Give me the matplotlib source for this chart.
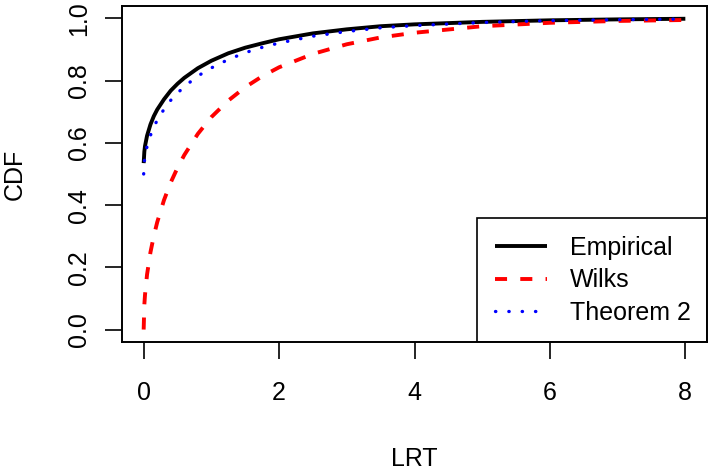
import matplotlib
matplotlib.use("Agg")
import matplotlib.pyplot as plt
from matplotlib.patches import Rectangle

plt.rcParams['font.family'] = ['Liberation Sans', 'DejaVu Sans']

# values
lrt = [0, 0.01, 0.02, 0.05, 0.1, 0.15, 0.2, 0.3, 0.4, 0.5, 0.6, 0.8, 1.0,
       1.25, 1.5, 1.75, 2.0, 2.5, 3.0, 3.5, 4.0, 5.0, 6.0, 7.0, 8.0]
empirical = [0.535, 0.572, 0.590, 0.623, 0.659, 0.686, 0.707, 0.740, 0.768,
             0.790, 0.809, 0.840, 0.864, 0.888, 0.906, 0.920, 0.933, 0.952,
             0.965, 0.975, 0.981, 0.989, 0.994, 0.997, 0.999]
wilks = [0.0, 0.080, 0.112, 0.177, 0.248, 0.301, 0.345, 0.416, 0.473, 0.520,
         0.561, 0.629, 0.683, 0.736, 0.779, 0.814, 0.843, 0.886, 0.917,
         0.939, 0.954, 0.975, 0.986, 0.992, 0.995]
theorem2 = [0.500, 0.540, 0.556, 0.589, 0.624, 0.651, 0.673, 0.708, 0.737,
            0.760, 0.781, 0.815, 0.841, 0.868, 0.890, 0.907, 0.921, 0.943,
            0.958, 0.970, 0.977, 0.987, 0.993, 0.996, 0.998]

xticks = [0, 2, 4, 6, 8]
yticks = [0.0, 0.2, 0.4, 0.6, 0.8, 1.0]

fig = plt.figure(figsize=(7.11, 4.70), dpi=100)
ax = fig.add_axes([122 / 711, (470 - 342) / 470, 585 / 711, 336 / 470])

ax.plot(lrt, empirical, color='black', lw=2.8, solid_capstyle='butt',
        label='Empirical')
ax.plot(lrt, wilks, color='red', lw=2.8, dashes=(3.1, 3.4),
        dash_capstyle='butt', label='Wilks')
ax.plot(lrt, theorem2, color='blue', lw=2.4, dashes=(0.1, 3.9),
        dash_capstyle='round', label='Theorem 2')

ax.set_xlim(-0.32, 8.32)
ax.set_ylim(-0.04, 1.04)
ax.set_xticks(xticks)
ax.set_xticklabels([str(t) for t in xticks])
ax.set_yticks(yticks)
ax.set_yticklabels([f"{t:.1f}" for t in yticks], rotation=90, va='center')
ax.tick_params(axis='both', labelsize=18, length=12, width=1.2)
ax.tick_params(axis='x', pad=16)
ax.tick_params(axis='y', pad=10)
for s in ax.spines.values():
    s.set_linewidth(1.4)

ax.set_xlabel("LRT", fontsize=18, labelpad=30)
ax.set_ylabel("CDF", fontsize=18, labelpad=29)

# legend box in R style: square frame touching the bottom-right corner
box_left = (477 - 122) / 585
box_top = (342 - 218) / 336
ax.add_patch(Rectangle((box_left, 0), 1 - box_left, box_top,
                       transform=ax.transAxes, fill=False, ec='black',
                       lw=1.2, zorder=5))
ax.legend(loc='upper left', bbox_to_anchor=(box_left, box_top),
          frameon=False, fontsize=18, handlelength=2.1, handletextpad=0.9,
          labelspacing=0.35, borderpad=0.7, borderaxespad=0)

fig.savefig("out.png", dpi=100)
plt.close(fig)
